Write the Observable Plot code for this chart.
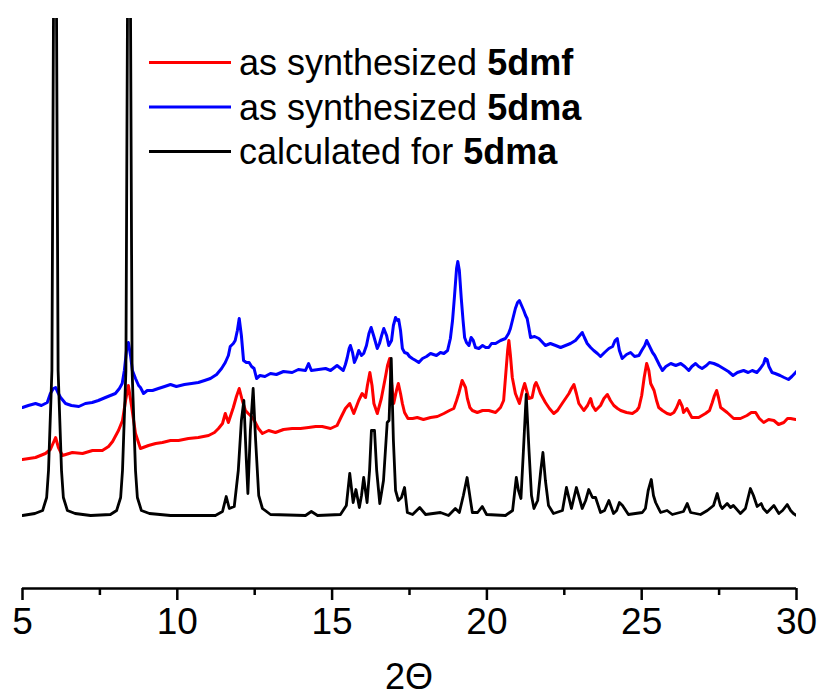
<!DOCTYPE html>
<html><head><meta charset="utf-8">
<script src="https://cdn.jsdelivr.net/npm/d3@7"></script>
<script src="https://cdn.jsdelivr.net/npm/@observablehq/plot@0.6"></script>
<style>body{margin:0;background:#fff}</style>
</head><body><div id="chart"></div>
<script>
// calculated for 5dma (black)
const calcX = [5.00,5.40,5.65,5.78,5.84,5.95,6.00,6.05,6.10,6.15,6.26,6.32,6.45,6.70,7.20,7.84,8.04,8.17,8.23,8.34,8.39,8.44,8.49,8.54,8.65,8.71,8.84,9.10,9.78,11.23,11.46,11.58,11.68,11.84,11.97,12.07,12.15,12.23,12.28,12.36,12.45,12.53,12.63,12.75,13.01,14.14,14.33,14.53,15.27,15.46,15.57,15.68,15.77,15.88,15.95,16.02,16.13,16.21,16.27,16.37,16.44,16.54,16.66,16.78,16.84,16.91,16.98,17.05,17.14,17.24,17.34,17.43,17.60,17.83,18.02,18.50,18.76,18.98,19.11,19.24,19.36,19.47,19.53,19.70,19.85,19.99,20.60,20.83,20.95,21.02,21.10,21.18,21.27,21.36,21.44,21.52,21.64,21.74,21.81,21.89,21.99,22.15,22.44,22.57,22.73,22.89,23.08,23.19,23.29,23.41,23.51,23.67,23.80,23.94,24.09,24.19,24.28,24.38,24.57,25.02,25.12,25.21,25.31,25.38,25.45,25.61,25.82,25.99,26.35,26.47,26.58,26.90,27.12,27.32,27.44,27.54,27.60,27.76,27.87,27.96,28.19,28.35,28.51,28.61,28.73,28.86,28.93,29.05,29.27,29.43,29.55,29.70,29.81,29.90,30.00];
const calcI = [73,75,78,91,118,218,570,1000,570,218,118,91,78,75,73,74,78,91,118,218,570,1000,570,218,118,91,78,75,73,73,77,92,80,82,118,168,188,128,95,158,200,148,93,80,74,73,77,73,74,83,115,86,99,81,93,111,86,118,158,158,118,85,108,166,168,230,148,98,88,91,101,76,74,81,74,76,73,80,76,93,111,88,76,76,82,74,73,78,111,98,90,138,194,138,93,80,88,118,136,108,83,75,78,101,80,101,80,88,99,91,91,76,78,88,75,78,86,83,74,76,80,98,109,93,86,76,78,74,77,85,76,74,78,83,95,83,80,85,81,83,75,80,100,93,82,85,80,76,83,75,78,84,78,75,73];

// as synthesized 5dmf (red)
const dmfX = [5.00,5.42,5.74,5.90,6.07,6.16,6.29,6.61,6.94,7.26,7.58,7.78,7.91,8.10,8.23,8.33,8.42,8.52,8.65,8.81,9.07,9.30,9.52,9.78,10.04,10.36,10.68,11.01,11.20,11.33,11.46,11.55,11.65,11.81,11.91,12.00,12.10,12.20,12.29,12.36,12.45,12.52,12.62,12.75,12.95,13.17,13.43,13.71,13.98,14.24,14.47,14.68,14.95,15.16,15.30,15.43,15.57,15.70,15.86,15.97,16.08,16.14,16.22,16.29,16.35,16.46,16.59,16.72,16.79,16.86,16.93,16.99,17.08,17.14,17.21,17.27,17.34,17.45,17.60,17.75,17.95,18.18,18.40,18.61,18.79,18.93,19.02,19.09,19.20,19.31,19.37,19.45,19.53,19.69,19.86,20.06,20.28,20.44,20.54,20.60,20.67,20.71,20.76,20.82,20.92,21.05,21.15,21.22,21.31,21.35,21.46,21.54,21.59,21.66,21.73,21.89,22.02,22.16,22.28,22.43,22.54,22.65,22.73,22.81,22.89,22.97,23.13,23.25,23.35,23.41,23.51,23.67,23.78,23.89,23.99,24.10,24.22,24.32,24.51,24.70,24.84,24.91,25.00,25.08,25.16,25.23,25.29,25.40,25.48,25.55,25.67,25.82,25.93,26.04,26.13,26.22,26.31,26.35,26.46,26.62,26.84,27.06,27.19,27.28,27.35,27.42,27.48,27.55,27.76,27.97,28.19,28.40,28.54,28.68,28.80,28.94,29.10,29.27,29.42,29.59,29.71,29.81,29.97];
const dmfI = [129,131,135,139,151,141,133,136,135,138,138,142,147,158,168,188,203,183,155,140,143,145,146,148,148,150,151,153,156,160,165,175,166,181,192,200,188,178,175,173,170,166,160,155,158,156,159,160,160,161,162,162,160,163,172,180,185,175,188,195,191,203,216,203,185,175,190,211,223,230,203,185,198,205,195,185,176,170,170,171,169,171,172,175,178,180,188,195,208,201,190,181,178,176,178,178,176,181,188,211,238,248,233,211,195,185,198,205,195,190,191,203,206,201,195,186,180,175,178,185,190,195,200,204,195,185,178,183,190,183,178,183,190,194,188,183,180,178,176,175,178,181,193,211,225,218,205,198,188,181,178,175,174,176,181,188,182,176,180,171,171,175,178,186,193,198,191,181,176,170,170,173,176,176,170,166,169,168,164,166,170,170,169];

// as synthesized 5dma (blue)
const dmaX = [5.00,5.19,5.42,5.61,5.80,5.90,6.00,6.07,6.16,6.23,6.39,6.58,6.82,7.03,7.25,7.45,7.68,7.84,8.00,8.13,8.22,8.29,8.36,8.42,8.49,8.55,8.65,8.75,8.81,8.91,9.03,9.20,9.39,9.59,9.78,9.97,10.23,10.46,10.68,10.88,11.07,11.27,11.43,11.55,11.65,11.71,11.81,11.87,11.94,12.00,12.07,12.14,12.23,12.32,12.40,12.48,12.56,12.67,12.83,13.01,13.20,13.43,13.71,13.91,14.14,14.24,14.33,14.56,14.79,14.95,15.16,15.36,15.43,15.49,15.55,15.59,15.66,15.72,15.79,15.86,15.95,16.02,16.11,16.19,16.26,16.34,16.46,16.53,16.60,16.67,16.76,16.83,16.92,16.98,17.05,17.11,17.15,17.21,17.27,17.34,17.43,17.50,17.59,17.70,17.80,17.92,18.05,18.18,18.37,18.50,18.61,18.73,18.82,18.89,18.95,19.02,19.06,19.11,19.17,19.23,19.28,19.34,19.42,19.49,19.56,19.63,19.74,19.86,19.96,20.06,20.15,20.28,20.44,20.60,20.70,20.76,20.84,20.92,20.99,21.05,21.12,21.19,21.25,21.30,21.36,21.41,21.54,21.68,21.80,21.89,22.05,22.22,22.38,22.54,22.70,22.86,22.97,23.08,23.15,23.24,23.35,23.45,23.57,23.67,23.80,23.94,24.06,24.14,24.21,24.28,24.37,24.51,24.64,24.77,24.91,25.00,25.10,25.16,25.24,25.35,25.42,25.50,25.58,25.67,25.78,25.94,26.10,26.26,26.39,26.52,26.62,26.74,26.84,26.95,27.09,27.19,27.33,27.48,27.64,27.80,27.95,28.09,28.29,28.44,28.57,28.72,28.83,28.94,28.99,29.05,29.11,29.21,29.31,29.47,29.60,29.74,29.85,30.00];
const dmaI = [181,183,185,183,186,195,200,201,195,191,185,183,182,185,186,188,191,193,195,200,205,218,238,246,233,218,210,203,201,195,198,198,200,202,204,202,204,205,206,208,210,214,220,226,233,242,245,248,258,270,253,228,226,226,222,220,210,213,212,215,214,217,216,219,218,225,218,219,220,218,223,218,224,231,240,243,236,226,231,238,233,235,243,255,261,253,240,245,253,260,253,243,248,263,271,268,269,258,240,236,235,232,230,228,226,230,232,235,233,236,235,238,250,268,291,320,327,318,291,268,251,246,243,251,248,241,240,243,241,241,245,245,248,250,255,260,270,280,286,288,283,278,273,270,260,251,252,250,246,243,245,243,241,243,245,248,252,256,251,245,241,238,235,232,236,240,242,248,250,238,230,234,236,232,233,238,243,248,243,236,233,228,223,218,222,225,223,225,222,218,222,225,222,220,223,226,225,223,220,217,213,216,218,216,218,216,220,225,230,229,222,216,215,213,211,209,212,217];

const majorTicks = [5, 10, 15, 20, 25, 30];
const minorTicks = [7.5, 12.5, 17.5, 22.5, 27.5];
const series = [
  {name: "as synthesized ", bold: "5dmf", color: "#ff0000"},
  {name: "as synthesized ", bold: "5dma", color: "#0000ff"},
  {name: "calculated for ", bold: "5dma", color: "#000000"}
];
const xLabel = "2\u0398";

const rows = (xs, ys) => xs.map((x, i) => ({x, y: ys[i]}));
const calc = rows(calcX, calcI);
const dmf = rows(dmfX, dmfI);
const dma = rows(dmaX, dmaI);

const font = "'Liberation Sans', Arial, Helvetica, sans-serif";
const plot = Plot.plot({
  width: 821, height: 698,
  marginLeft: 22, marginRight: 25, marginTop: 18, marginBottom: 110,
  style: {fontFamily: font, background: "white", color: "black"},
  x: {domain: [5, 30]},
  y: {domain: [0, 570], axis: null},
  marks: [
    Plot.line(dmf, {x: "x", y: "y", stroke: series[0].color, strokeWidth: 3, clip: true}),
    Plot.line(dma, {x: "x", y: "y", stroke: series[1].color, strokeWidth: 3, clip: true}),
    Plot.line(calc, {x: "x", y: "y", stroke: series[2].color, strokeWidth: 2.8, clip: true}),
    Plot.ruleY([0], {strokeWidth: 2.5}),
    Plot.axisX({ticks: majorTicks, tickSize: 12, tickPadding: 7, strokeWidth: 2.5, fontSize: 37, label: null, tickFormat: d => String(d)}),
    Plot.axisX({ticks: minorTicks, tickSize: 7, strokeWidth: 2.5, tickFormat: () => "", label: null})
  ]
});
document.getElementById("chart").appendChild(plot);

const svg = d3.select(plot);
const xs = plot.scale("x");
svg.append("text")
  .attr("x", xs.apply(17.5)).attr("y", 689)
  .attr("text-anchor", "middle")
  .attr("font-size", 36).attr("font-family", font).attr("fill", "black")
  .text(xLabel);

const lg = svg.append("g").attr("font-family", font).attr("font-size", 36).attr("text-anchor", "start");
series.forEach((s, i) => {
  const y = 62.5 + i * 44.5;
  lg.append("line").attr("x1", 149).attr("x2", 231).attr("y1", y).attr("y2", y)
    .attr("stroke", s.color).attr("stroke-width", 3);
  const t = lg.append("text").attr("x", 239).attr("y", y + 12.5).attr("fill", "black").attr("text-anchor", "start");
  t.append("tspan").text(s.name);
  t.append("tspan").attr("font-weight", "bold").text(s.bold);
});
</script>
</body></html>
